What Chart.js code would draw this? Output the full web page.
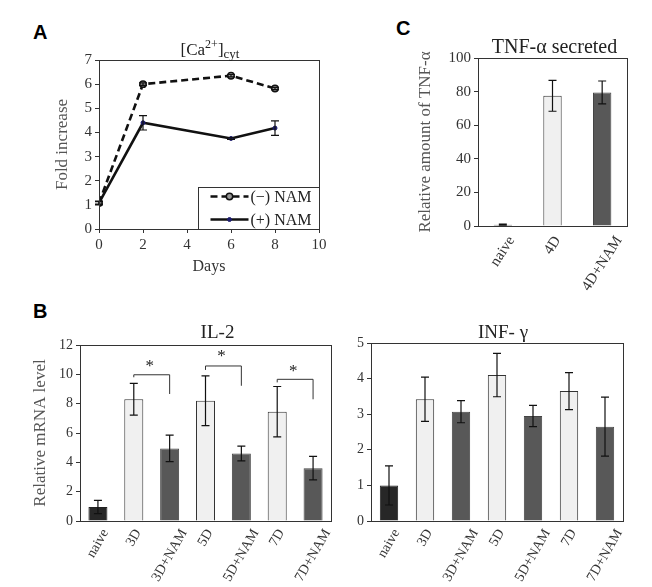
<!DOCTYPE html>
<html>
<head>
<meta charset="utf-8">
<script src="https://cdn.jsdelivr.net/npm/chart.js@4.4.0/dist/chart.umd.min.js"></script>
<style>
  body { margin: 0; background: #fff; }
  #fig { position: relative; width: 652px; height: 587px; }
  canvas { position: absolute; }
  .tag { position: absolute; font: bold 20px 'Liberation Sans', Arial, sans-serif; color: #000; }
</style>
</head>
<body>
<div id="fig">
  <div class="tag" style="left:33px;top:21px">A</div>
  <div class="tag" style="left:33px;top:300px">B</div>
  <div class="tag" style="left:396px;top:17px">C</div>
  <canvas id="ca" width="340" height="280" style="left:0;top:0"></canvas>
  <canvas id="tnf" width="282" height="300" style="left:370px;top:0"></canvas>
  <canvas id="il2" width="340" height="297" style="left:0;top:290px"></canvas>
  <canvas id="ifn" width="322" height="297" style="left:330px;top:290px"></canvas>
</div>
<script>
const SERIF = "'Liberation Serif', 'Times New Roman', serif";

// A - cytosolic calcium
const days = [0, 2, 6, 8];
const caMinusNam = [1.08, 6.0, 6.35, 5.82];
const caMinusErr = [0.05, 0.05, 0.05, 0.05];
const caPlusNam = [1.08, 4.4, 3.75, 4.18];
const caPlusErr = [0.08, 0.3, 0.04, 0.3];

// C - TNF-a secreted
const tnfLabels = ['naive', '4D', '4D+NAM'];
const tnfValues = [0.8, 77.5, 79.5];
const tnfErr = [0.3, 9.2, 6.8];
const tnfGroups = ['naive', 'plain', 'nam'];

// B - mRNA levels
const bLabels = ['naive', '3D', '3D+NAM', '5D', '5D+NAM', '7D', '7D+NAM'];
const bGroups = ['naive', 'plain', 'nam', 'plain', 'nam', 'plain', 'nam'];
const il2Values = [0.95, 8.3, 4.95, 8.2, 4.6, 7.45, 3.6];
const il2Err = [0.45, 1.08, 0.9, 1.7, 0.5, 1.72, 0.8];
// [from, to, bar level, left end, right end, star level]
const il2Brackets = [
  [1, 2, 9.97, 9.8, 8.66, 10.8],
  [3, 4, 10.57, 10.3, 9.22, 11.45],
  [5, 6, 9.66, 9.45, 8.3, 10.4]
];
const ifnValues = [1.0, 3.42, 3.07, 4.1, 2.95, 3.65, 2.65];
const ifnErr = [0.55, 0.62, 0.31, 0.61, 0.3, 0.52, 0.83];

const fills = { naive: '#272727', plain: '#f0f0f0', nam: '#585858' };
const edges = { naive: '#222', plain: '#333', nam: '#444' };

const frame = {
  id: 'frame',
  afterDraw(chart) {
    const { ctx, chartArea: a } = chart;
    ctx.save();
    ctx.strokeStyle = '#333';
    ctx.lineWidth = 1;
    ctx.strokeRect(Math.round(a.left) + 0.5, Math.round(a.top) + 0.5,
      Math.round(a.right - a.left), Math.round(a.bottom - a.top));
    ctx.restore();
  }
};

const errorBars = {
  id: 'errorBars',
  afterDatasetsDraw(chart) {
    const { ctx } = chart;
    const y = chart.scales.y;
    chart.data.datasets.forEach((ds, di) => {
      if (!ds.errors) return;
      const meta = chart.getDatasetMeta(di);
      ctx.save();
      ctx.strokeStyle = '#111';
      ctx.lineWidth = 1.2;
      meta.data.forEach((el, i) => {
        const v = ds.data[i];
        const val = typeof v === 'object' ? v.y : v;
        const e = ds.errors[i];
        const top = y.getPixelForValue(val + e);
        const bot = y.getPixelForValue(val - e);
        const x = el.x, c = 4;
        ctx.beginPath();
        ctx.moveTo(x, top); ctx.lineTo(x, bot);
        ctx.moveTo(x - c, top); ctx.lineTo(x + c, top);
        ctx.moveTo(x - c, bot); ctx.lineTo(x + c, bot);
        ctx.stroke();
      });
      ctx.restore();
    });
  }
};

const panelTitle = {
  id: 'panelTitle',
  afterDraw(chart, args, opts) {
    if (!opts.parts) return;
    const { ctx, chartArea: a } = chart;
    ctx.save();
    ctx.fillStyle = '#222';
    ctx.textBaseline = 'alphabetic';
    let w = 0;
    opts.parts.forEach(p => { ctx.font = p.size + 'px ' + SERIF; w += ctx.measureText(p.t).width; });
    let x = (a.left + a.right) / 2 + (opts.dx || 0) - w / 2;
    opts.parts.forEach(p => {
      ctx.font = p.size + 'px ' + SERIF;
      ctx.fillText(p.t, x, opts.y + (p.dy || 0));
      x += ctx.measureText(p.t).width;
    });
    ctx.restore();
  }
};

// rotated category labels, each centred (by its bounding box) under its bar
const slantLabels = {
  id: 'slantLabels',
  afterDraw(chart, args, opts) {
    if (!opts.angle) return;
    const { ctx, chartArea: a } = chart;
    const xs = chart.scales.x;
    const th = opts.angle * Math.PI / 180;
    ctx.save();
    ctx.fillStyle = '#333';
    ctx.font = opts.size + 'px ' + SERIF;
    ctx.textAlign = 'center';
    ctx.textBaseline = 'middle';
    const h = opts.size * 0.68;
    chart.data.labels.forEach((lab, i) => {
      const w = ctx.measureText(lab).width;
      const bh = w * Math.sin(th) + h * Math.cos(th);
      const cx = xs.getPixelForValue(i);
      const cy = a.bottom + opts.gap + bh / 2;
      ctx.save();
      ctx.translate(cx, cy);
      ctx.rotate(-th);
      ctx.fillText(lab, 0, 0);
      ctx.restore();
    });
    ctx.restore();
  }
};

const insetLegend = {
  id: 'insetLegend',
  afterDraw(chart, args, opts) {
    if (!opts.show) return;
    const { ctx, chartArea: a } = chart;
    const w = 121, h = 42;
    const x0 = Math.round(a.right - w) + 0.5, y0 = Math.round(a.bottom - h) + 0.5;
    ctx.save();
    ctx.fillStyle = '#fff';
    ctx.fillRect(x0, y0, w, h);
    ctx.strokeStyle = '#333';
    ctx.lineWidth = 1;
    ctx.strokeRect(x0, y0, w, h);
    chart.data.datasets.forEach((ds, i) => {
      const yy = y0 + 9 + i * 23;
      ctx.strokeStyle = ds.borderColor;
      ctx.lineWidth = ds.borderWidth;
      ctx.setLineDash(ds.borderDash || []);
      ctx.beginPath(); ctx.moveTo(x0 + 12, yy); ctx.lineTo(x0 + 50, yy); ctx.stroke();
      ctx.setLineDash([]);
      ctx.beginPath();
      ctx.arc(x0 + 31, yy, ds.pointRadius, 0, Math.PI * 2);
      ctx.fillStyle = ds.pointBackgroundColor; ctx.fill();
      ctx.lineWidth = ds.pointBorderWidth; ctx.strokeStyle = ds.pointBorderColor; ctx.stroke();
      ctx.fillStyle = '#222';
      ctx.font = '16px ' + SERIF;
      ctx.textBaseline = 'middle';
      ctx.fillText(ds.label, x0 + 52, yy + 1);
    });
    ctx.restore();
  }
};

const sigBrackets = {
  id: 'sigBrackets',
  afterDatasetsDraw(chart, args, opts) {
    if (!opts.items) return;
    const { ctx } = chart;
    const xs = chart.scales.x, ys = chart.scales.y;
    ctx.save();
    ctx.strokeStyle = '#333';
    ctx.lineWidth = 1;
    opts.items.forEach(([from, to, level, leftEnd, rightEnd, star]) => {
      const x1 = xs.getPixelForValue(from), x2 = xs.getPixelForValue(to);
      ctx.beginPath();
      ctx.moveTo(x1, ys.getPixelForValue(leftEnd));
      ctx.lineTo(x1, ys.getPixelForValue(level));
      ctx.lineTo(x2, ys.getPixelForValue(level));
      ctx.lineTo(x2, ys.getPixelForValue(rightEnd));
      ctx.stroke();
      ctx.fillStyle = '#222';
      ctx.font = '17px ' + SERIF;
      ctx.textAlign = 'center';
      ctx.textBaseline = 'alphabetic';
      ctx.fillText('*', (x1 + x2) / 2 - 2, ys.getPixelForValue(star) + 8);
    });
    ctx.restore();
  }
};

function yAxis(min, max, step, titleText, tickSize, width) {
  return {
    min, max,
    ticks: { stepSize: step, color: '#333', font: { family: SERIF, size: tickSize }, padding: 3 },
    grid: { drawOnChartArea: false, drawTicks: true, tickLength: 4, color: '#333' },
    border: { display: false },
    title: { display: !!titleText, text: titleText, color: '#555', font: { family: SERIF, size: 17 }, padding: { top: 0, bottom: 0 } },
    afterFit(s) { s.width = width; }
  };
}

function catAxis(height) {
  return {
    ticks: { display: false },
    grid: { display: false },
    border: { display: false },
    afterFit(s) { s.height = height; }
  };
}

const base = {
  responsive: false,
  animation: false,
  events: [],
  plugins: { legend: { display: false }, tooltip: { enabled: false } }
};

// A
new Chart(document.getElementById('ca'), {
  type: 'line',
  data: {
    datasets: [
      {
        label: '(\u2212) NAM',
        data: days.map((d, i) => ({ x: d, y: caMinusNam[i] })),
        errors: caMinusErr,
        borderColor: '#111', borderWidth: 2.6, borderDash: [7, 4],
        pointRadius: 3.2, pointBackgroundColor: '#999', pointBorderColor: '#111', pointBorderWidth: 1.5
      },
      {
        label: '(+) NAM',
        data: days.map((d, i) => ({ x: d, y: caPlusNam[i] })),
        errors: caPlusErr,
        borderColor: '#111', borderWidth: 2.6,
        pointRadius: 2, pointBackgroundColor: '#1c1c6b', pointBorderColor: '#1c1c6b', pointBorderWidth: 1
      }
    ]
  },
  options: {
    ...base,
    layout: { padding: { left: 52, right: 21, top: 60, bottom: 0 } },
    scales: {
      x: {
        type: 'linear', min: 0, max: 10,
        ticks: { stepSize: 2, color: '#333', font: { family: SERIF, size: 15 }, padding: 3 },
        grid: { drawOnChartArea: false, drawTicks: true, tickLength: 4, color: '#333' },
        border: { display: false },
        title: { display: true, text: 'Days', color: '#333', font: { family: SERIF, size: 16 }, padding: { top: 0, bottom: 4 } },
        afterFit(s) { s.height = 51; }
      },
      y: yAxis(0, 7, 1, 'Fold increase', 15, 47)
    },
    plugins: {
      ...base.plugins,
      panelTitle: { y: 55, dx: 1, parts: [
        { t: '[Ca', size: 17 }, { t: '2+', size: 12, dy: -7 }, { t: ']', size: 17 }, { t: 'cyt', size: 13, dy: 3 }
      ] },
      insetLegend: { show: true }
    }
  },
  plugins: [frame, errorBars, panelTitle, insetLegend]
});

// C
new Chart(document.getElementById('tnf'), {
  type: 'bar',
  data: {
    labels: tnfLabels,
    datasets: [{
      data: tnfValues,
      errors: tnfErr,
      backgroundColor: tnfGroups.map(g => fills[g]),
      borderColor: tnfGroups.map(g => edges[g]),
      borderWidth: 1,
      barPercentage: 0.37,
      categoryPercentage: 1
    }]
  },
  options: {
    ...base,
    layout: { padding: { left: 45, right: 25, top: 58, bottom: 0 } },
    scales: {
      x: catAxis(74),
      y: yAxis(0, 100, 20, 'Relative amount of TNF-\u03b1', 15, 63)
    },
    plugins: {
      ...base.plugins,
      panelTitle: { y: 53, dx: 2, parts: [{ t: 'TNF-\u03b1 secreted', size: 20 }] },
      slantLabels: { angle: 57, size: 15, gap: 9 }
    }
  },
  plugins: [frame, errorBars, panelTitle, slantLabels]
});

// B - IL-2
new Chart(document.getElementById('il2'), {
  type: 'bar',
  data: {
    labels: bLabels,
    datasets: [{
      data: il2Values,
      errors: il2Err,
      backgroundColor: bGroups.map(g => fills[g]),
      borderColor: bGroups.map(g => edges[g]),
      borderWidth: 1,
      barPercentage: 0.53,
      categoryPercentage: 1
    }]
  },
  options: {
    ...base,
    layout: { padding: { left: 30, right: 9, top: 55, bottom: 0 } },
    scales: {
      x: catAxis(66),
      y: yAxis(0, 12, 2, 'Relative mRNA level', 14, 50)
    },
    plugins: {
      ...base.plugins,
      panelTitle: { y: 48, dx: 12, parts: [{ t: 'IL-2', size: 19 }] },
      sigBrackets: { items: il2Brackets },
      slantLabels: { angle: 60, size: 14, gap: 7 }
    }
  },
  plugins: [frame, errorBars, panelTitle, sigBrackets, slantLabels]
});

// B - INF-gamma
new Chart(document.getElementById('ifn'), {
  type: 'bar',
  data: {
    labels: bLabels,
    datasets: [{
      data: ifnValues,
      errors: ifnErr,
      backgroundColor: bGroups.map(g => fills[g]),
      borderColor: bGroups.map(g => edges[g]),
      borderWidth: 1,
      barPercentage: 0.51,
      categoryPercentage: 1
    }]
  },
  options: {
    ...base,
    layout: { padding: { left: 0, right: 29, top: 53, bottom: 0 } },
    scales: {
      x: catAxis(66),
      y: yAxis(0, 5, 1, '', 14, 41)
    },
    plugins: {
      ...base.plugins,
      panelTitle: { y: 48, dx: 6, parts: [{ t: 'INF- \u03b3', size: 19 }] },
      slantLabels: { angle: 60, size: 14, gap: 7 }
    }
  },
  plugins: [frame, errorBars, panelTitle, slantLabels]
});
</script>
</body>
</html>
